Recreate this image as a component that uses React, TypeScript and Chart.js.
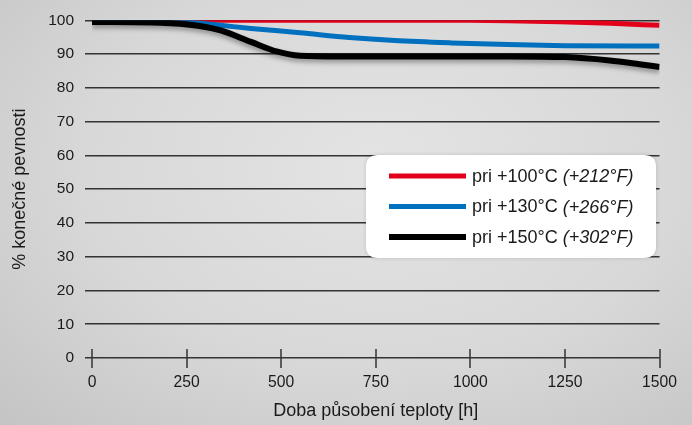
import React, { useEffect, useRef } from "react";
import { Chart, registerables } from "chart.js";

Chart.register(...registerables);

// ---- data ----
const xTicks = [0, 250, 500, 750, 1000, 1250, 1500];
const yTicks = [0, 10, 20, 30, 40, 50, 60, 70, 80, 90, 100];

const hours100 = [0, 500, 1000, 1100, 1236, 1370, 1500];
const values100 = [100, 100, 100, 99.9, 99.6, 99.1, 98.5];

const hours130 = [0, 200, 280, 350, 420, 550, 680, 800, 950, 1100, 1250, 1500];
const values130 = [100, 99.8, 99.2, 98.4, 97.6, 96.3, 94.9, 94.0, 93.3, 92.8, 92.5, 92.4];

const hours150 = [0, 180, 280, 340, 420, 490, 550, 650, 900, 1100, 1250, 1368, 1447, 1500];
const values150 = [99.5, 99.3, 98.4, 97.0, 93.6, 90.7, 89.5, 89.3, 89.3, 89.3, 89.1, 88.1, 87.0, 86.2];

const labelsC = ["pri +100°C", "pri +130°C", "pri +150°C"];
const labelsF = ["(+212°F)", "(+266°F)", "(+302°F)"];
const colors = ["#e2001a", "#0070bf", "#000000"];

const yTitle = "% konečné pevnosti";
const xTitle = "Doba působení teploty [h]";

const FONT = "'Liberation Sans', Arial, Helvetica, sans-serif";

const toPoints = (xs: number[], ys: number[]) => xs.map((x, i) => ({ x, y: ys[i] }));

const xTickPlugin = {
  id: "xTickMarks",
  afterDraw(chart: any) {
    const { ctx, chartArea, scales } = chart;
    const x = scales.x;
    ctx.save();
    ctx.strokeStyle = "#333";
    ctx.lineWidth = 1.5;
    xTicks.forEach((v) => {
      const px = Math.round(x.getPixelForValue(v));
      ctx.beginPath();
      ctx.moveTo(px, chartArea.bottom - 9);
      ctx.lineTo(px, chartArea.bottom + 10);
      ctx.stroke();
    });
    ctx.restore();
  },
};

const shadowPlugin = {
  id: "lineShadow",
  beforeDatasetDraw(chart: any, args: any) {
    if (args.index === 2) {
      const ctx = chart.ctx;
      ctx.save();
      ctx.shadowColor = "rgba(0,0,0,0.35)";
      ctx.shadowBlur = 5;
      ctx.shadowOffsetY = 3;
    }
  },
  afterDatasetDraw(chart: any, args: any) {
    if (args.index === 2) chart.ctx.restore();
  },
};

const legendPlugin = {
  id: "customLegend",
  afterDraw(chart: any) {
    const { ctx } = chart;
    const bx = 366, by = 155, bw = 290, bh = 103, r = 12;
    ctx.save();
    ctx.shadowColor = "rgba(0,0,0,0.15)";
    ctx.shadowBlur = 4;
    ctx.fillStyle = "#ffffff";
    ctx.beginPath();
    ctx.moveTo(bx + r, by);
    ctx.lineTo(bx + bw - r, by);
    ctx.quadraticCurveTo(bx + bw, by, bx + bw, by + r);
    ctx.lineTo(bx + bw, by + bh - r);
    ctx.quadraticCurveTo(bx + bw, by + bh, bx + bw - r, by + bh);
    ctx.lineTo(bx + r, by + bh);
    ctx.quadraticCurveTo(bx, by + bh, bx, by + bh - r);
    ctx.lineTo(bx, by + r);
    ctx.quadraticCurveTo(bx, by, bx + r, by);
    ctx.closePath();
    ctx.fill();
    ctx.shadowColor = "transparent";
    ctx.shadowBlur = 0;
    chart.data.datasets.forEach((ds: any, i: number) => {
      const cy = 176 + i * 30.5;
      ctx.strokeStyle = ds.borderColor;
      ctx.lineWidth = i === 2 ? 6 : 5;
      ctx.beginPath();
      ctx.moveTo(389, cy);
      ctx.lineTo(466, cy);
      ctx.stroke();
      ctx.fillStyle = "#1a1a1a";
      ctx.textBaseline = "middle";
      ctx.textAlign = "left";
      ctx.font = `18px ${FONT}`;
      const t1 = labelsC[i] + " ";
      ctx.fillText(t1, 472, cy + 1);
      const w = ctx.measureText(t1).width;
      ctx.font = `italic 18px ${FONT}`;
      ctx.fillText(labelsF[i], 472 + w, cy + 1);
    });
    ctx.restore();
  },
};

export default function App() {
  const ref = useRef<HTMLCanvasElement>(null);
  useEffect(() => {
    document.body.style.margin = "0";
    const chart = new Chart(ref.current as HTMLCanvasElement, {
      type: "line",
      data: {
        datasets: [
          {
            label: labelsC[0] + " " + labelsF[0],
            data: toPoints(hours100, values100),
            borderColor: colors[0],
            borderWidth: 5,
            order: 2,
          },
          {
            label: labelsC[1] + " " + labelsF[1],
            data: toPoints(hours130, values130),
            borderColor: colors[1],
            borderWidth: 5,
            order: 1,
          },
          {
            label: labelsC[2] + " " + labelsF[2],
            data: toPoints(hours150, values150),
            borderColor: colors[2],
            borderWidth: 6,
            order: 0,
          },
        ] as any,
      },
      options: {
        animation: false,
        responsive: false,
        maintainAspectRatio: false,
        layout: { padding: { top: 18, right: 32, left: 0, bottom: 0 } },
        elements: {
          point: { radius: 0, hoverRadius: 0 },
          line: { cubicInterpolationMode: "monotone", borderCapStyle: "butt", borderJoinStyle: "round" },
        },
        plugins: {
          legend: { display: false },
          tooltip: { enabled: false },
        },
        scales: {
          x: {
            type: "linear",
            min: 0,
            max: 1500,
            afterFit(scale: any) {
              scale.height = 67;
            },
            afterBuildTicks(scale: any) {
              scale.ticks = xTicks.map((v) => ({ value: v }));
            },
            grid: { display: false, drawTicks: false },
            border: { display: false },
            ticks: {
              padding: 15,
              color: "#1a1a1a",
              font: { family: FONT, size: 15.7 },
              maxRotation: 0,
              callback: (v: any) => String(v),
            },
            title: {
              display: true,
              text: xTitle,
              color: "#1a1a1a",
              font: { family: FONT, size: 18 },
              padding: { top: 0, bottom: 3 },
            },
          },
          y: {
            min: 0,
            max: 100,
            afterFit(scale: any) {
              scale.width = 92;
            },
            afterBuildTicks(scale: any) {
              scale.ticks = yTicks.map((v) => ({ value: v }));
            },
            grid: {
              color: "#333",
              lineWidth: 1.5,
              drawTicks: true,
              tickLength: 7,
            },
            border: { display: false },
            ticks: {
              padding: 11,
              color: "#1a1a1a",
              font: { family: FONT, size: 15.5 },
              callback: (v: any) => String(v),
            },
            title: {
              display: true,
              text: yTitle,
              color: "#1a1a1a",
              font: { family: FONT, size: 18 },
              padding: { top: 9, bottom: 0 },
            },
          },
        },
      } as any,
      plugins: [xTickPlugin, shadowPlugin, legendPlugin],
    });
    return () => chart.destroy();
  }, []);

  return (
    <div
      style={{
        width: 692,
        height: 425,
        background:
          "radial-gradient(ellipse at 55% 40%, #e4e4e4 0%, #d8d8d8 55%, #c4c4c4 100%)",
      }}
    >
      <canvas ref={ref} width={692} height={425} style={{ display: "block" }} />
    </div>
  );
}
